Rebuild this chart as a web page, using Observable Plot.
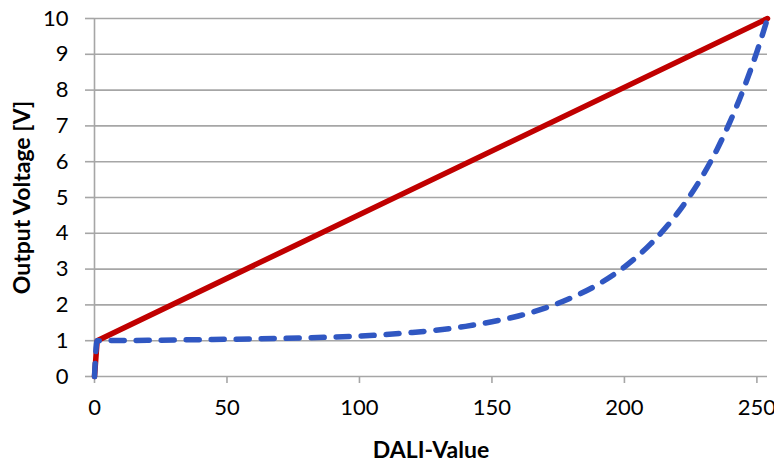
<!DOCTYPE html>
<html>
<head>
<meta charset="utf-8">
<script src="https://cdn.jsdelivr.net/npm/d3@7"></script>
<script src="https://cdn.jsdelivr.net/npm/@observablehq/plot@0.6"></script>
<style>
  html, body { margin: 0; padding: 0; background: #fff; }
  #chart { width: 774px; height: 463px; }
</style>
</head>
<body>
<div id="chart"></div>
<script>
// Linear curve (red)
const linearX = [0, 1, 254];
const linearY = [0, 1, 10];

// Logarithmic curve (blue dashed)
const logX = [0, 1, 20, 40, 60, 80, 100, 120, 140, 150, 160, 170, 180, 190, 200, 210, 220, 230, 235, 240, 245, 250, 254];
const logY = [0, 1.0, 1.01, 1.03, 1.05, 1.08, 1.13, 1.23, 1.40, 1.53, 1.69, 1.91, 2.20, 2.57, 3.06, 3.71, 4.56, 5.67, 6.35, 7.14, 8.04, 9.07, 10];

const yTicks = [0, 1, 2, 3, 4, 5, 6, 7, 8, 9, 10];
const xTicks = [0, 50, 100, 150, 200, 250];

const linear = linearX.map((x, i) => ({x, y: linearY[i]}));
const logc = logX.map((x, i) => ({x, y: logY[i]}));

const grid = "#a6a6a6";

const chart = Plot.plot({
  width: 774,
  height: 463,
  marginLeft: 94,
  marginRight: 7,
  marginTop: 18,
  marginBottom: 87,
  style: {fontFamily: "Lato, 'Open Sans', sans-serif", background: "#fff", color: "#000"},
  x: {domain: [0, 254]},
  y: {domain: [0, 10]},
  marks: [
    Plot.gridY(yTicks, {stroke: grid, strokeWidth: 1.6, strokeOpacity: 1}),
    Plot.ruleX([0], {stroke: grid, strokeWidth: 1.6}),
    Plot.axisY(yTicks, {tickSize: 9, stroke: grid, strokeWidth: 1.6, strokeOpacity: 1, text: null, label: null}),
    Plot.axisY(yTicks, {tickSize: 0, tickPadding: 26, fontSize: 22, fill: "#000", label: null}),
    Plot.axisX(xTicks, {tickSize: 7, stroke: grid, strokeWidth: 1.6, strokeOpacity: 1, text: null, label: null}),
    Plot.axisX(xTicks, {tickSize: 0, tickPadding: 23, fontSize: 22, fill: "#000", label: null}),
    Plot.line(linear, {x: "x", y: "y", stroke: "#c00000", strokeWidth: 5.5, strokeLinecap: "round", strokeLinejoin: "round"}),
    Plot.line(logc, {x: "x", y: "y", stroke: "#3057c2", strokeWidth: 5.5, strokeDasharray: "13,12", strokeLinecap: "round", strokeLinejoin: "round", curve: "monotone-x"}),
    Plot.text(["DALI-Value"], {frameAnchor: "bottom", dy: 74, lineAnchor: "middle", fontSize: 23, fontWeight: "bold", fill: "#000"}),
    Plot.text(["Output Voltage [V]"], {frameAnchor: "left", dx: -72, rotate: -90, lineAnchor: "middle", textAnchor: "middle", fontSize: 23, fontWeight: "bold", fill: "#000"})
  ]
});
document.getElementById("chart").appendChild(chart);
</script>
</body>
</html>
